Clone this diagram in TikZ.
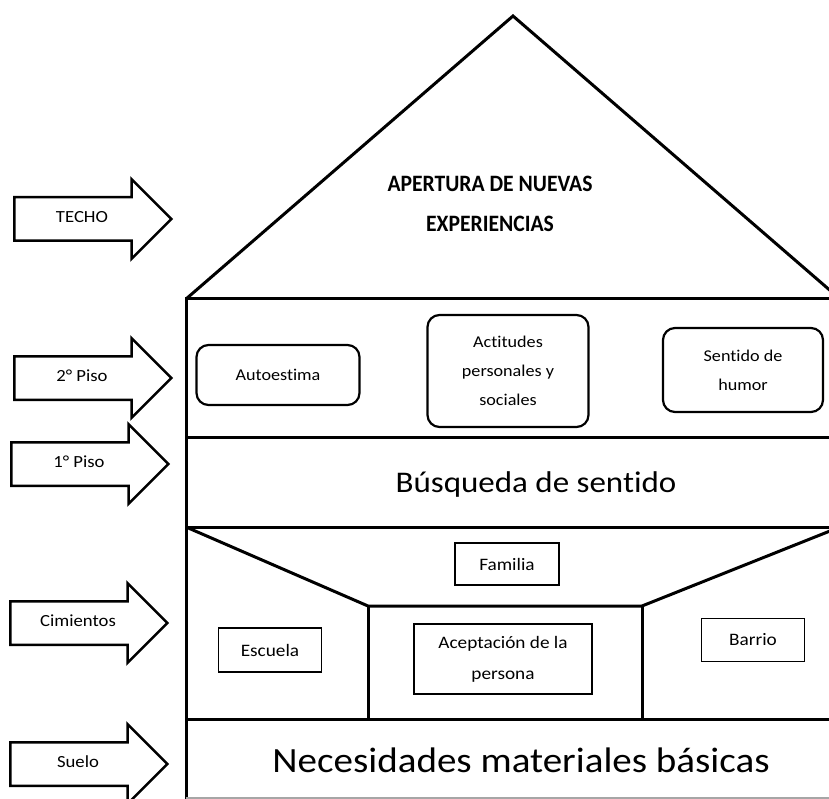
\documentclass[tikz,border=0pt]{standalone}
\usepackage{fontspec}
\setmainfont{Carlito}[FakeStretch=1.1, Ligatures=NoCommon]
\newfontfamily\rooffont{Carlito}[FakeStretch=0.92]
\usetikzlibrary{shapes.arrows}
\begin{document}
\begin{tikzpicture}[x=1pt,y=-1pt,
  every node/.style={font=\fontsize{16.5}{29}\selectfont, align=center, inner sep=0pt},
  wall/.style={line width=3pt, line join=miter},
  roundbox/.style={draw, line width=2.2pt, rounded corners=12pt},
  smallbox/.style={draw, line width=1.5pt, font=\fontsize{17.5}{31}\selectfont},
  sidearrow/.style={single arrow, draw, line width=2.5pt, font=\fontsize{17}{18}\selectfont,
    single arrow head extend=18pt, minimum height=157pt,
    text height=10pt, text depth=3pt, inner ysep=14pt, inner xsep=2pt}
]
    \clip (0,0) rectangle (829,799);
    % roof and floors
    \draw[wall] (186,299) -- (513,16) -- (840,299);
    \draw[wall] (186,799) -- (186,299) -- (840,299) -- (840,799);
    \draw[wall] (186,437) -- (840,437);
    \draw[wall] (186,527) -- (840,527);
    \draw[wall] (186,719) -- (840,719);
    \draw[line width=1.5pt, black!35] (186,798) -- (840,798);
    % foundations
    \coordinate (cl) at (368,606);
    \coordinate (cr) at (642,606);
    \draw[wall] (186,527) -- (cl) -- (cr) -- (840,527);
    \draw[wall] (cl) -- (368,719);
    \draw[wall] (cr) -- (642,719);

    \node[font=\rooffont\fontsize{23.5}{40}\selectfont\bfseries] (techo) at (490,204) {APERTURA DE NUEVAS\\EXPERIENCIAS};
    \node[roundbox, minimum width=163pt, minimum height=60pt] (autoestima) at (278,375) {Autoestima};
    \node[roundbox, minimum width=161pt, minimum height=112pt] (actitudes) at (508,371) {Actitudes\\personales y\\sociales};
    \node[roundbox, minimum width=160pt, minimum height=84pt] (sentido) at (743,370) {Sentido de\\humor};
    \node[font=\fontsize{30}{36}\selectfont] (busqueda) at (536,484) {Búsqueda de sentido};
    \node[smallbox, minimum width=104pt, minimum height=42pt] (familia) at (507,564) {Familia};
    \node[smallbox, minimum width=103pt, minimum height=44pt] (escuela) at (270,650) {Escuela};
    \node[smallbox, minimum width=178pt, minimum height=70pt] (aceptacion) at (503,659) {Aceptación de la\\persona};
    \node[smallbox, minimum width=103pt, minimum height=43pt] (barrio) at (753,640) {Barrio};
    \node[font=\fontsize{35.5}{40}\selectfont] (necesidades) at (521,760) {Necesidades materiales básicas};

    % arrows on the left
    \node[sidearrow] (atecho) at (82,219) {TECHO};
    \node[sidearrow] (apiso2) at (82,378) {2° Piso};
    \node[sidearrow] (apiso1) at (79,464) {1° Piso};
    \node[sidearrow] (acimientos) at (78,623) {Cimientos};
    \node[sidearrow] (asuelo) at (78,764) {Suelo};
\end{tikzpicture}
\end{document}
